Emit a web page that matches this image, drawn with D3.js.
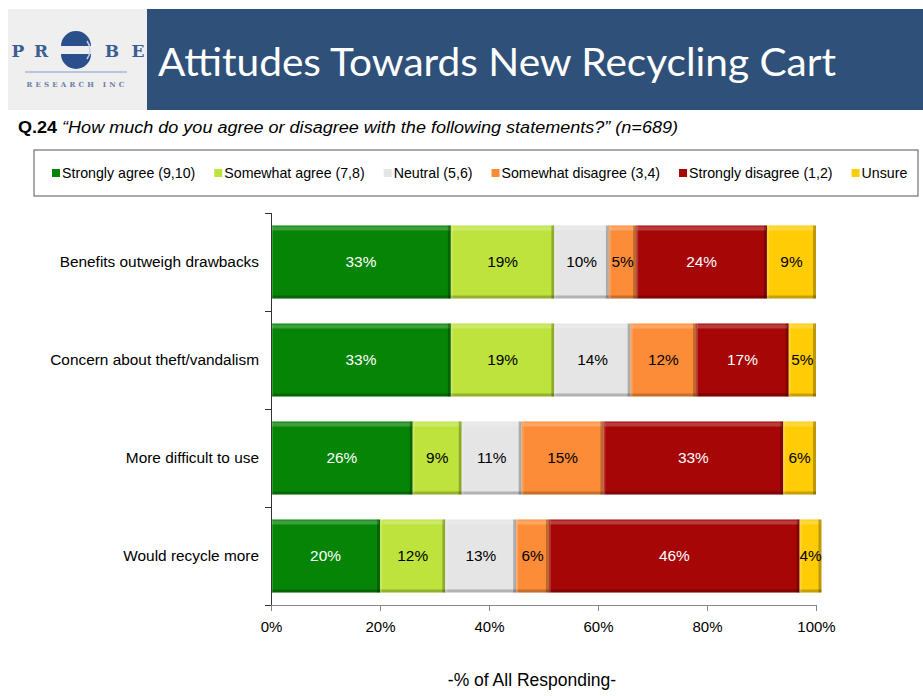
<!DOCTYPE html>
<html>
<head>
<meta charset="utf-8">
<script src="https://cdn.jsdelivr.net/npm/d3@7/dist/d3.min.js"></script>
<style>
  body { margin: 0; background: #fff; }
  svg { display: block; font-family: "Liberation Sans", Arial, sans-serif; }
</style>
</head>
<body>
<div class="chart"></div>
<script>
// data
var statements = ["Benefits outweigh drawbacks", "Concern about theft/vandalism", "More difficult to use", "Would recycle more"];
var seriesNames = ["Strongly agree (9,10)", "Somewhat agree (7,8)", "Neutral (5,6)", "Somewhat disagree (3,4)", "Strongly disagree (1,2)", "Unsure"];
var stronglyAgree = [33, 33, 26, 20];
var somewhatAgree = [19, 19, 9, 12];
var neutral = [10, 14, 11, 13];
var somewhatDisagree = [5, 12, 15, 6];
var stronglyDisagree = [24, 17, 33, 46];
var unsure = [9, 5, 6, 4];
var xTicks = [0, 20, 40, 60, 80, 100];

var seriesColors = ["#068406", "#bde33c", "#e5e5e5", "#fd8c38", "#a60606", "#ffcc05"];
var labelColors = ["#fff", "#000", "#000", "#000", "#fff", "#000"];
var seriesValues = [stronglyAgree, somewhatAgree, neutral, somewhatDisagree, stronglyDisagree, unsure];

// svg container
var svgWidth = 923, svgHeight = 696;

var svg = d3.select(".chart")
  .append("svg")
  .attr("width", svgWidth)
  .attr("height", svgHeight);

// header: logo block + blue banner
svg.append("rect").attr("x", 8).attr("y", 9).attr("width", 139).attr("height", 101).attr("fill", "#efefef");
svg.append("rect").attr("x", 147).attr("y", 9).attr("width", 776).attr("height", 101).attr("fill", "#2f5179");

var logo = svg.append("g").attr("fill", "#3a5f93").attr("font-family", "'DejaVu Serif', serif").attr("font-weight", "bold");
[["P", 18], ["R", 41], ["B", 112], ["E", 138]].forEach(function (d) {
  logo.append("text").attr("x", d[1]).attr("y", 57).attr("text-anchor", "middle").attr("font-size", 17).text(d[0]);
});
logo.append("path").attr("d", "M61,46 A15,15 0 0 1 91,46 Z").attr("fill", "#2a4f8a");
logo.append("path").attr("d", "M61,54 A15,15 0 0 0 91,54 Z").attr("fill", "#2a4f8a");
logo.append("path").attr("d", "M87,41 A15,15 0 0 1 87,59").attr("fill", "none").attr("stroke", "#c9d3e6").attr("stroke-width", 1.5);
svg.append("line").attr("x1", 25).attr("x2", 127).attr("y1", 72).attr("y2", 72).attr("stroke", "#b8c6dc").attr("stroke-width", 2);
svg.append("text").attr("x", 77).attr("y", 87).attr("text-anchor", "middle")
  .attr("font-family", "'DejaVu Serif', serif").attr("font-size", 7).attr("font-weight", "bold")
  .attr("letter-spacing", 3.2).attr("fill", "#6a7fa6").text("RESEARCH INC");

svg.append("text")
  .attr("x", 158).attr("y", 76)
  .attr("font-family", "Lato, 'Open Sans', sans-serif")
  .attr("font-size", 39)
  .attr("fill", "#fff")
  .attr("textLength", 678)
  .attr("lengthAdjust", "spacingAndGlyphs")
  .text("Attitudes Towards New Recycling Cart");

// question line
var q = svg.append("text").attr("x", 18).attr("y", 133).attr("font-size", 16).attr("fill", "#000")
  .attr("textLength", 660).attr("lengthAdjust", "spacingAndGlyphs");
q.append("tspan").attr("font-weight", "bold").text("Q.24 ");
q.append("tspan").attr("font-style", "italic").text("\u201CHow much do you agree or disagree with the following statements?\u201D (n=689)");

// legend
svg.append("rect").attr("x", 34).attr("y", 150).attr("width", 884).attr("height", 46)
  .attr("fill", "#fff").attr("stroke", "#555").attr("stroke-width", 1);
var legendX = 52;
seriesNames.forEach(function (name, i) {
  svg.append("rect").attr("x", legendX).attr("y", 169).attr("width", 8).attr("height", 8).attr("fill", seriesColors[i]);
  var t = svg.append("text").attr("x", legendX + 10).attr("y", 178).attr("font-size", 14.2).attr("fill", "#000").text(name);
  legendX += 10 + t.node().getComputedTextLength() + 19;
});

// chart scales
var xScale = d3.scaleLinear().domain([0, 100]).range([271, 816]);
var yScale = d3.scaleBand().domain(statements).range([213, 605]).paddingInner(0.255).paddingOuter(0.1275);

// stacked data
var stacked = statements.map(function (s, r) {
  var x0 = 0;
  return seriesValues.map(function (vals, i) {
    var seg = { statement: s, series: i, value: vals[r], x0: x0, x1: x0 + vals[r] };
    x0 += vals[r];
    return seg;
  });
});

var bars = svg.append("g");
stacked.forEach(function (row) {
  var g = bars.append("g");
  var segs = g.selectAll("g").data(row).enter().append("g");
  var bh = yScale.bandwidth();
  segs.append("rect")
    .attr("x", d => xScale(d.x0))
    .attr("y", d => yScale(d.statement))
    .attr("width", d => xScale(d.x1) - xScale(d.x0))
    .attr("height", bh)
    .attr("fill", d => seriesColors[d.series]);
  // bevel highlights
  segs.append("rect")
    .attr("x", d => xScale(d.x0) + 1)
    .attr("y", d => yScale(d.statement) + 1)
    .attr("width", d => xScale(d.x1) - xScale(d.x0) - 2)
    .attr("height", 4)
    .attr("fill", "#fff").attr("opacity", 0.22);
  segs.append("rect")
    .attr("x", d => xScale(d.x0))
    .attr("y", d => yScale(d.statement) + bh - 3)
    .attr("width", d => xScale(d.x1) - xScale(d.x0))
    .attr("height", 3)
    .attr("fill", "#000").attr("opacity", 0.22);
  segs.append("rect")
    .attr("x", d => xScale(d.x1) - 3)
    .attr("y", d => yScale(d.statement))
    .attr("width", 3)
    .attr("height", bh)
    .attr("fill", "#000").attr("opacity", 0.25);
  segs.append("rect")
    .attr("x", d => xScale(d.x0))
    .attr("y", d => yScale(d.statement))
    .attr("width", 2)
    .attr("height", bh)
    .attr("fill", "#fff").attr("opacity", 0.18);
  segs.append("text")
    .attr("x", d => (xScale(d.x0) + xScale(d.x1)) / 2)
    .attr("y", d => yScale(d.statement) + bh / 2 + 5)
    .attr("text-anchor", "middle")
    .attr("font-size", 15.4)
    .attr("fill", d => labelColors[d.series])
    .text(d => d.value + "%");
});

// category labels
svg.append("g").selectAll("text").data(statements).enter().append("text")
  .attr("x", 259)
  .attr("y", d => yScale(d) + yScale.bandwidth() / 2 + 5)
  .attr("text-anchor", "end")
  .attr("font-size", 15.4)
  .attr("fill", "#000")
  .text(d => d);

// y axis with ticks at band boundaries
var step = yScale.step();
var bounds = statements.map(d => yScale(d) - step * yScale.paddingInner() / 2).concat([605]);
var yAxis = svg.append("g").attr("stroke", "#333").attr("stroke-width", 1);
yAxis.append("line").attr("x1", 271.5).attr("x2", 271.5).attr("y1", 213).attr("y2", 605);
yAxis.selectAll("line.tick").data(bounds).enter().append("line")
  .attr("class", "tick")
  .attr("x1", 265).attr("x2", 271.5)
  .attr("y1", d => Math.round(d) + 0.5).attr("y2", d => Math.round(d) + 0.5);

// x axis
var bottomAxis = d3.axisBottom(xScale).tickValues(xTicks).tickSize(6).tickFormat(d => d + "%");
var xAxisG = svg.append("g").attr("transform", "translate(0, 605)").call(bottomAxis);
xAxisG.select(".domain").attr("stroke", "#868686");
xAxisG.selectAll(".tick line").attr("stroke", "#868686");
xAxisG.selectAll(".tick text")
  .attr("font-family", "'Liberation Sans', Arial, sans-serif")
  .attr("font-size", 15).attr("fill", "#000").attr("dy", "1.2em");

// axis title
svg.append("text")
  .attr("x", 532).attr("y", 686)
  .attr("text-anchor", "middle")
  .attr("font-size", 17.5)
  .attr("fill", "#000")
  .text("-% of All Responding-");
</script>
</body>
</html>
